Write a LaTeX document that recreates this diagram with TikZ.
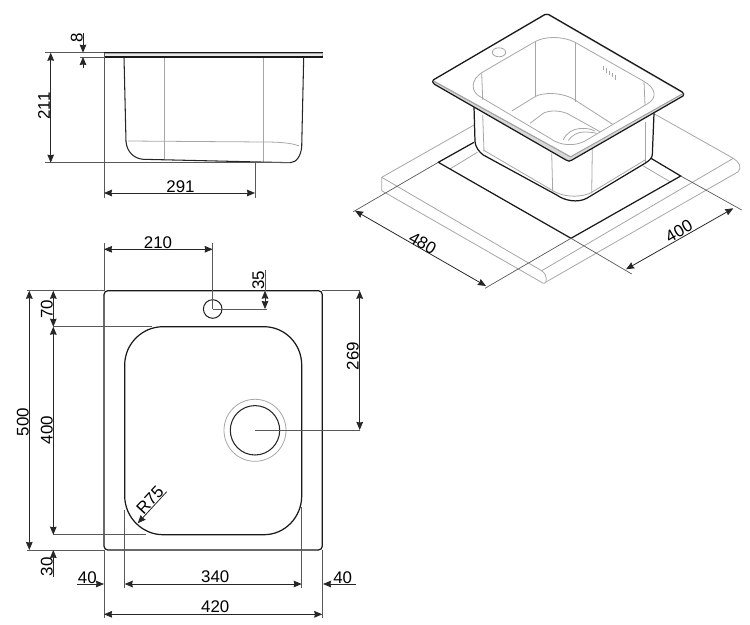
\documentclass[tikz,border=0pt]{standalone}
\usepackage{fontspec}
\setmainfont{Liberation Sans}
\usetikzlibrary{arrows.meta}
\tikzset{
  dimline/.style={draw=black!85,line width=0.45pt,{Stealth[length=4.6pt,width=3.8pt,inset=0.4pt]}-{Stealth[length=4.6pt,width=3.8pt,inset=0.4pt]}},
  dimend/.style={draw=black!85,line width=0.45pt,-{Stealth[length=4.6pt,width=3.8pt,inset=0.4pt]}},
  extline/.style={draw=black!65,line width=0.4pt},
  outline/.style={draw=black!90,line width=0.7pt},
  thinout/.style={draw=black!85,line width=0.6pt},
  greyline/.style={draw=black!35,line width=0.45pt},
  dimtext/.style={inner sep=0pt,font=\fontsize{9.6pt}{11pt}\selectfont},
}
\begin{document}
\begin{tikzpicture}[x=0.02cm,y=-0.02cm]
  \useasboundingbox (0,0) rectangle (750,625);

  % side view
  \draw[greyline] (164.7,57) -- (164.7,160);
  \draw[greyline] (263.3,57) -- (263.3,162);
  \draw[greyline] (128,141) -- (263.3,142) .. controls (280,142) and (292,143) .. (299,146);
  \draw[thinout] (124,57) -- (126,141.7) .. controls (127,152) and (134,158.5) .. (143,159.3)
     -- (290,162.7) .. controls (297,162.7) and (301,155) .. (301.7,146.7) -- (303.7,57);
  \draw[greyline,fill=black!8] (104,53) rectangle (322.5,57);
  \draw[outline] (104,52.7) -- (322.5,52.7);
  \draw[outline] (104,57) -- (322.5,57);
  \draw[extline] (45,52.7) -- (104,52.7);
  \draw[extline] (80,57) -- (104,57);
  \draw[extline] (45,162.7) -- (290,162.7);
  \draw[extline] (104,53) -- (104,198);
  \draw[extline] (255,162.7) -- (255,198);
  \draw[dimline] (50.7,52.7) -- (50.7,162.7);
  \draw[dimend] (83,33) -- (83,52.7);
  \draw[dimend] (83,68) -- (83,57);
  \draw[dimline] (104,193) -- (255,193);
  \node (lbl211) [dimtext,rotate=90] at (44,106) {211};
  \node (lbl8) [dimtext,rotate=90] at (76.7,38) {8};
  \node (lbl291) [dimtext] at (180.5,186.7) {291};

  % worktop
  \draw[greyline] (474,125) -- (381.7,177.3) -- (381.7,190.7) -- (543.3,283.3);
  \draw[greyline] (381.7,177.3) -- (541.7,270.7);
  \draw[greyline] (541.7,270.7) .. controls (545,273) and (547,277) .. (546,281.7) .. controls (545.5,283) and (544.5,283.8) .. (543.3,283.3);
  \draw[greyline] (541.7,270.7) -- (733.3,158.3);
  \draw[greyline] (546,282) -- (738.3,171.7);
  \draw[greyline] (653.3,113.3) -- (733.3,158.3) .. controls (739,162) and (742,167) .. (738.3,171.7);
  \draw[greyline] (450,169) -- (477.3,152.3);
  \draw[greyline] (643.3,166) -- (670,181.7);

  % cut-out and its dimensions
  \draw[outline] (474,142.3) -- (438.3,162.3) -- (571,238.3) -- (680.7,176) -- (651,158.3);
  \draw[extline] (438.3,162.3) -- (353.3,211.7);
  \draw[extline] (571,238.3) -- (485,288.3);
  \draw[extline] (680.7,176) -- (741.7,210);
  \draw[extline] (571,238.3) -- (631.7,274);
  \draw[dimline] (355,210.7) -- (486,286);
  \draw[dimline] (626,269.3) -- (733.3,208.3);
  \node (lbl480) [dimtext,rotate=-30] at (422.7,243.3) {480};
  \node (lbl400b) [dimtext,rotate=30] at (679,231) {400};

  % bowl below the plate
  \draw[outline,fill=white] (474,106.7) -- (475,141.7) .. controls (475.5,147) and (479,152) .. (483.3,155)
     -- (556.7,195) .. controls (565,201) and (578,203) .. (586.7,198.3)
     -- (645,163.3) .. controls (649,161) and (652,158) .. (652.3,155) -- (654,113.3);
  \draw[greyline] (482.7,115) -- (484,151.7);
  \draw[greyline] (483.3,150) -- (551.7,190) .. controls (562,197) and (578,198) .. (590,193.3) -- (645,160);
  \draw[greyline] (551.7,153.3) -- (552.7,191.7);
  \draw[greyline] (592.3,149) -- (591.7,193.3);
  \draw[greyline] (645,121.7) -- (645,161.7);

  % plate
  \draw[greyline,fill=white] (432.7,80.3) -- (546.7,14) -- (683.3,93.3) -- (570.7,156.7) -- cycle;
  \draw[draw=none,fill=black!15] (433,81) -- (570.5,157) -- (683.3,93.5) -- (683.3,95.7) -- (570,161) .. controls (568,161.5) and (567,160.5) .. (566,160) -- (434,84.3) -- cycle;
  \draw[outline] (433.5,79.8) -- (545,14.4) .. controls (546,13.8) and (547.5,13.8) .. (548.5,14.4) -- (682,91.8) .. controls (684,93) and (684,95) .. (683,96)
     -- (572,160) .. controls (570,161.5) and (568,161.5) .. (566,160) -- (434.5,84.3) .. controls (432.5,83) and (432,81) .. (433.5,79.8);
  \draw[black!40,line width=0.35pt] (433,81) -- (570.5,157) -- (683.3,93.5);

  % bowl seen from above
  \draw[greyline] (499,52.3) ellipse (6.7 and 4.5);
  \draw[greyline] (483.3,71.7) -- (535,41.7) .. controls (545,36) and (563,36) .. (575,42.3)
     -- (643.3,81) .. controls (656,88) and (658,98) .. (646.7,104.3)
     -- (585,141) .. controls (575,146.5) and (560,146) .. (550,138.3)
     -- (481.7,97.7) .. controls (470,92) and (470,79.5) .. (483.3,71.7);
  \draw[greyline] (535,41.7) -- (535,95.7);
  \draw[greyline] (575,42.3) -- (575,101.7);
  \draw[greyline] (481.7,73.3) -- (482.7,100);
  \draw[greyline] (644,81.7) -- (645,105);
  \draw[greyline] (511.7,111) -- (535,96.7) .. controls (541,92.5) and (562,91.5) .. (575,100) -- (612.7,124.3);
  \draw[greyline] (530,123.3) -- (543.3,113.3) .. controls (549,110) and (562,110) .. (570,115) -- (600,131.7);
  \draw[greyline] (563.3,140) .. controls (566,133) and (573,129) .. (580,128.5) .. controls (586,128) and (591,129) .. (595,131);
  \draw[greyline] (568.3,140.5) .. controls (572,135) and (578,132) .. (584,132) .. controls (589,132) and (593,132.5) .. (596.7,133.3);
  \foreach \i in {0,...,4}
    \draw[greyline] (603+3*\i,66+2.3*\i) -- ++(0,4.5);

  % top view
  \draw[outline,rounded corners=2.2pt] (104,290.7) rectangle (322.3,550);
  \draw[outline] (163,326.7) -- (264,326.7) .. controls (285,326.7) and (301.7,344) .. (301.7,365)
     -- (301.7,496) .. controls (301.7,517) and (285,534.7) .. (264,534.7)
     -- (163,534.7) .. controls (142,534.7) and (124.7,517) .. (124.7,496)
     -- (124.7,365) .. controls (124.7,344) and (142,326.7) .. (163,326.7) -- cycle;
  \draw[thinout] (212.7,309) circle (9.3);
  \draw[thinout] (255,430.3) circle (24.7);
  \draw[greyline] (255,430.3) circle (31);
  \draw[extline] (104,243) -- (104,290.7);
  \draw[extline] (212.7,243) -- (212.7,309);
  \draw[extline] (212.7,309) -- (266.7,309);
  \draw[extline] (265,270) -- (265,290.7);
  \draw[extline] (26.7,290.7) -- (104,290.7);
  \draw[extline] (322.3,290.7) -- (360,290.7);
  \draw[extline] (255,430) -- (360,430);
  \draw[extline] (26.7,550) -- (104,550);
  \draw[extline] (53.3,326.7) -- (151.7,326.7);
  \draw[extline] (53.3,534.7) -- (145.7,534.7);
  \draw[extline] (124.7,510) -- (124.7,588);
  \draw[extline] (301.7,506.7) -- (301.7,588);
  \draw[extline] (104,550) -- (104,618);
  \draw[extline] (322.3,550) -- (322.3,618);
  \draw[extline] (53.3,550) -- (53.3,576.7);
  \draw[dimline] (104,249.3) -- (212.7,249.3);
  \draw[dimline] (265,290.7) -- (265,309);
  \draw[dimline] (359.7,290.7) -- (359.7,430);
  \draw[dimline] (29.3,290.7) -- (29.3,550);
  \draw[dimline] (53.3,290.7) -- (53.3,326.7);
  \draw[dimline] (53.3,326.7) -- (53.3,534.7);
  \draw[dimend] (53.3,576.7) -- (53.3,550);
  \draw[dimend] (166.7,491.7) -- (137.7,523.3);
  \draw[dimline] (124.7,584) -- (301.7,584);
  \draw[dimend] (77.3,584) -- (104,584);
  \draw[dimend] (356,584) -- (323,584);
  \draw[dimline] (104,614.3) -- (322.3,614.3);
  \node (lbl210) [dimtext] at (158,243) {210};
  \node (lbl35) [dimtext,rotate=90] at (258.3,280) {35};
  \node (lbl269) [dimtext,rotate=90] at (352.7,356) {269};
  \node (lbl500) [dimtext,rotate=90] at (22.7,422) {500};
  \node (lbl70) [dimtext,rotate=90] at (46.7,309.3) {70};
  \node (lbl400) [dimtext,rotate=90] at (46.7,430) {400};
  \node (lbl30) [dimtext,rotate=90] at (46.7,566.7) {30};
  \node (lblr75) [dimtext,rotate=47] at (150,500) {R75};
  \node (lbl340) [dimtext] at (215.3,577) {340};
  \node (lbl40a) [dimtext] at (87.3,577.5) {40};
  \node (lbl40b) [dimtext] at (342.7,577.5) {40};
  \node (lbl420) [dimtext] at (215.3,607) {420};
\end{tikzpicture}
\end{document}
